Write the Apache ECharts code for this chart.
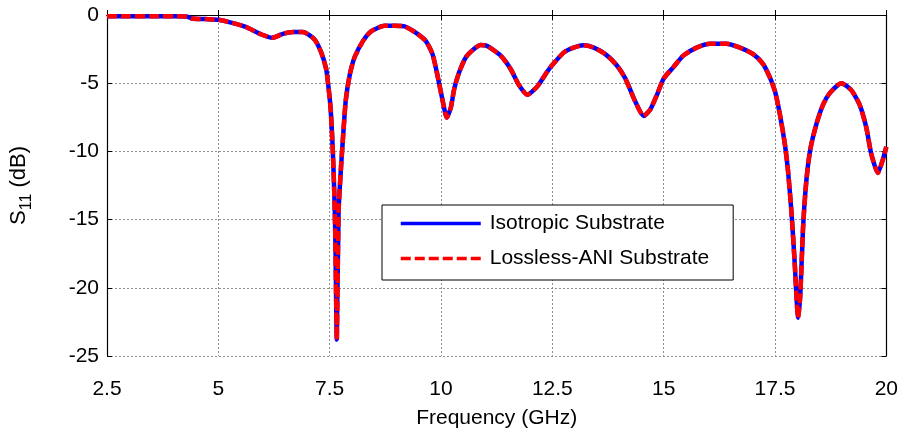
<!DOCTYPE html>
<html>
<head>
<meta charset="utf-8">
<script src="https://cdn.jsdelivr.net/npm/echarts@6/dist/echarts.min.js"></script>
<style>
html,body{margin:0;padding:0;background:#fff;}
#chart{width:901px;height:434px;}
</style>
</head>
<body>
<div id="chart"></div>
<script>
const frequencyGHz = [2.5,3.0,3.5,4.0,4.3,4.4,4.7,5.0,5.22,5.6,5.97,6.21,6.45,6.68,6.9,7.16,7.31,7.42,7.46,7.52,7.57,7.61,7.63,7.66,7.70,7.76,7.81,7.86,7.95,8.06,8.25,8.43,8.73,8.95,9.18,9.44,9.66,9.81,9.92,10.04,10.13,10.22,10.30,10.41,10.56,10.74,10.89,11.04,11.34,11.56,11.75,11.94,12.16,12.38,12.46,12.76,12.98,13.2,13.43,13.69,13.95,14.14,14.36,14.55,14.7,14.85,15.0,15.22,15.44,15.74,16.04,16.41,16.71,17.01,17.23,17.38,17.5,17.61,17.72,17.79,17.87,17.94,18.02,18.07,18.13,18.2,18.29,18.43,18.58,18.73,18.99,19.21,19.4,19.55,19.66,19.81,19.92,20.0];
const isotropicS11 = [-0.1,-0.1,-0.1,-0.1,-0.12,-0.25,-0.3,-0.35,-0.5,-0.85,-1.43,-1.67,-1.38,-1.24,-1.24,-1.79,-2.74,-3.94,-4.9,-6.8,-9.9,-13.7,-16.8,-23.8,-14.4,-10.9,-8.5,-6.3,-4.4,-3.1,-1.9,-1.2,-0.79,-0.79,-0.84,-1.31,-1.91,-2.87,-4.42,-6.33,-7.52,-6.8,-5.37,-4.18,-3.1,-2.5,-2.2,-2.27,-2.98,-3.94,-5.13,-5.85,-5.25,-4.18,-3.82,-2.74,-2.39,-2.22,-2.39,-2.87,-3.7,-4.66,-6.33,-7.4,-6.93,-5.85,-4.66,-3.82,-2.98,-2.39,-2.1,-2.1,-2.39,-2.87,-3.58,-4.54,-5.6,-7.28,-9.43,-11.34,-14.45,-18.03,-22.2,-20.4,-15.6,-12.3,-9.9,-8.0,-6.57,-5.73,-5.01,-5.49,-6.57,-8.24,-10.15,-11.58,-10.62,-9.67];
const losslessAniS11 = [-0.1,-0.1,-0.1,-0.1,-0.12,-0.25,-0.3,-0.35,-0.5,-0.85,-1.43,-1.67,-1.38,-1.24,-1.24,-1.79,-2.74,-3.94,-4.9,-6.8,-9.9,-13.7,-16.8,-23.8,-14.4,-10.9,-8.5,-6.3,-4.4,-3.1,-1.9,-1.2,-0.79,-0.79,-0.84,-1.31,-1.91,-2.87,-4.42,-6.33,-7.52,-6.8,-5.37,-4.18,-3.1,-2.5,-2.2,-2.27,-2.98,-3.94,-5.13,-5.85,-5.25,-4.18,-3.82,-2.74,-2.39,-2.22,-2.39,-2.87,-3.7,-4.66,-6.33,-7.4,-6.93,-5.85,-4.66,-3.82,-2.98,-2.39,-2.1,-2.1,-2.39,-2.87,-3.58,-4.54,-5.6,-7.28,-9.43,-11.34,-14.45,-18.03,-22.2,-20.4,-15.6,-12.3,-9.9,-8.0,-6.57,-5.73,-5.01,-5.49,-6.57,-8.24,-10.15,-11.58,-10.62,-9.67];
const seriesNames = ['Isotropic Substrate', 'Lossless-ANI Substrate'];
const xTitle = 'Frequency (GHz)';

const FONT = '"Liberation Sans", Arial, sans-serif';
const chart = echarts.init(document.getElementById('chart'), null, {renderer: 'canvas'});
const pairs = (ys) => frequencyGHz.map((f, i) => [f, ys[i]]);
const gridLine = {show: true, lineStyle: {color: '#8f8f8f', type: [2, 2], width: 1}};
const axisLineStyle = {show: true, lineStyle: {color: '#000', width: 1.2}};

chart.setOption({
  animation: false,
  backgroundColor: '#fff',
  grid: {left: 105, right: 14, top: 15, bottom: 70, containLabel: false},
  xAxis: [{
    type: 'value', min: 2.5, max: 20, interval: 2.5, position: 'bottom',
    name: xTitle, nameLocation: 'middle', nameGap: 52,
    nameTextStyle: {fontFamily: FONT, fontSize: 21, color: '#000'},
    axisLine: axisLineStyle,
    axisTick: {show: true, inside: true, length: 5, lineStyle: {color: '#000'}},
    axisLabel: {fontFamily: FONT, fontSize: 21, color: '#000', margin: 23},
    splitLine: gridLine
  }, {
    type: 'value', min: 2.5, max: 20, interval: 2.5, position: 'top',
    axisLine: axisLineStyle,
    axisTick: {show: true, inside: true, length: 5, lineStyle: {color: '#000'}},
    axisLabel: {show: false}, splitLine: {show: false}
  }],
  yAxis: [{
    type: 'value', min: -25, max: 0, interval: 5, position: 'left',
    name: '{s|S}{sub|11}{s| (dB)}', nameLocation: 'middle', nameGap: 72, nameRotate: 90,
    nameTextStyle: {
      fontFamily: FONT, fontSize: 22, color: '#000',
      rich: {
        s: {fontFamily: FONT, fontSize: 22, color: '#000', lineHeight: 32, verticalAlign: 'middle'},
        sub: {fontFamily: FONT, fontSize: 16, color: '#000', lineHeight: 32, verticalAlign: 'bottom'}
      }
    },
    axisLine: axisLineStyle,
    axisTick: {show: true, inside: true, length: 5, lineStyle: {color: '#000'}},
    axisLabel: {fontFamily: FONT, fontSize: 21, color: '#000', margin: 8},
    splitLine: gridLine
  }, {
    type: 'value', min: -25, max: 0, interval: 5, position: 'right',
    axisLine: axisLineStyle,
    axisTick: {show: true, inside: true, length: 5, lineStyle: {color: '#000'}},
    axisLabel: {show: false}, splitLine: {show: false}
  }],
  legend: {
    show: true, orient: 'vertical', left: 382, top: 205,
    padding: [8, 24, 11, 17], itemGap: 14, itemWidth: 80, itemHeight: 14,
    backgroundColor: '#fff', borderColor: '#000', borderWidth: 1, borderRadius: 0,
    itemStyle: {opacity: 0},
    lineStyle: {width: 3.5},
    textStyle: {fontFamily: FONT, fontSize: 21, color: '#000', padding: [0, 0, 0, 4]},
    data: seriesNames
  },
  series: [{
    name: seriesNames[0], type: 'line', data: pairs(isotropicS11),
    showSymbol: false, symbol: 'none', smooth: 0.2,
    lineStyle: {color: '#0000ff', width: 4.5, type: 'solid'},
    itemStyle: {color: '#0000ff'}, z: 2
  }, {
    name: seriesNames[1], type: 'line', data: pairs(losslessAniS11),
    showSymbol: false, symbol: 'none', smooth: 0.2,
    lineStyle: {color: '#ff0000', width: 4.5, type: [10, 4]},
    itemStyle: {color: '#ff0000'}, z: 3
  }]
});
</script>
</body>
</html>
